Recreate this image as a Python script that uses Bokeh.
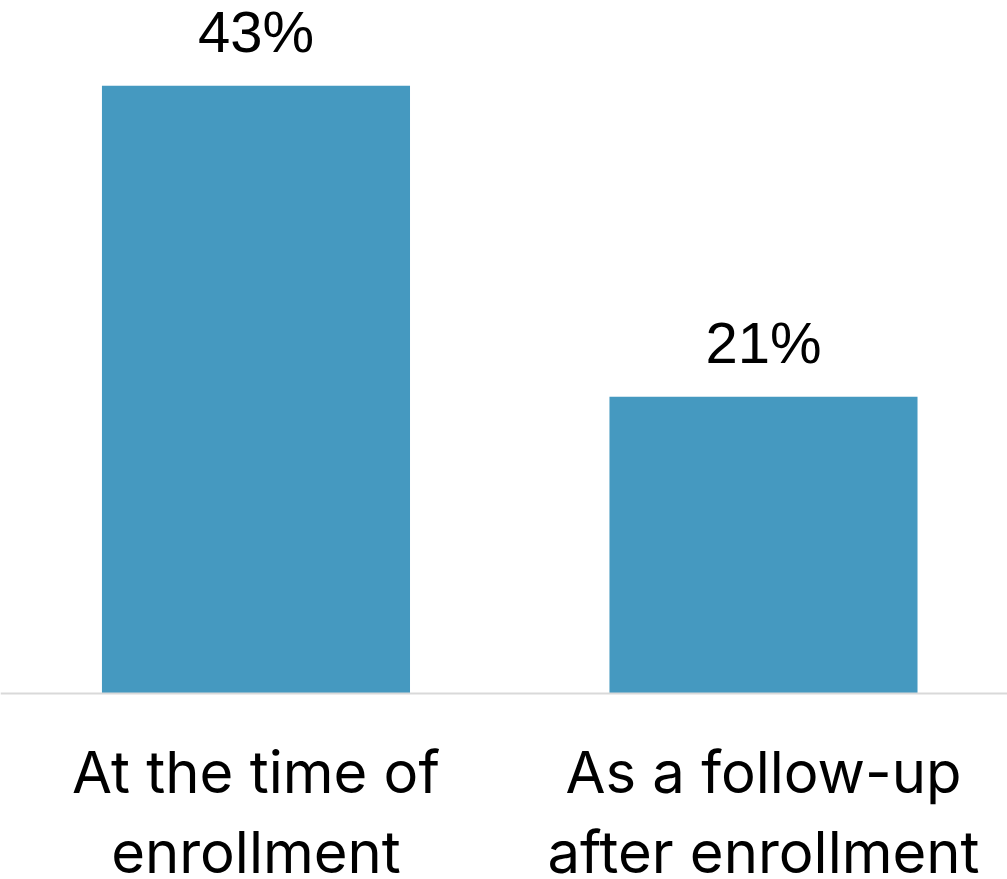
from bokeh.plotting import figure
from bokeh.models import ColumnDataSource, Range1d, Span
from bokeh.core.properties import value
from bokeh.embed import file_html
from bokeh.resources import INLINE

# Share of respondents by timing
categories = ["At the time of\nenrollment", "As a follow-up\nafter enrollment"]
positions = [0, 1]
values = [43, 21]
value_labels = ["43%", "21%"]

BAR_COLOR = "#4599C0"

src = ColumnDataSource(dict(
    x=positions,
    top=values,
    label=value_labels,
    cat=categories,
    cat_y=[0, 0],
))

p = figure(
    width=1007, height=879,
    output_backend="svg", toolbar_location=None,
    x_range=Range1d(-0.5034, 1.4808),
    y_range=Range1d(-13.17, 49.04),
    min_border=0,
)
p.axis.visible = False
p.grid.visible = False
p.outline_line_color = None
p.background_fill_color = "white"
p.border_fill_color = "white"

p.vbar(x="x", top="top", bottom=0, width=0.607, source=src,
       fill_color=BAR_COLOR, line_color=None)

# baseline
p.add_layout(Span(location=0, dimension="width", line_color="#D9D9D9", line_width=2))

# value labels above the bars
p.text(x="x", y="top", text="label", source=src,
       text_align="center", text_baseline="alphabetic", y_offset=-54,
       text_font=value("Liberation Sans"), text_font_size="58px",
       text_color="black")

# category labels below the baseline
p.text(x="x", y="cat_y", text="cat", source=src,
       text_align="center", text_baseline="top", y_offset=44,
       text_font=value("Inter"), text_font_size="58px",
       text_line_height=1.14, text_color="black")

open("out.html", "w").write(file_html(p, INLINE))
